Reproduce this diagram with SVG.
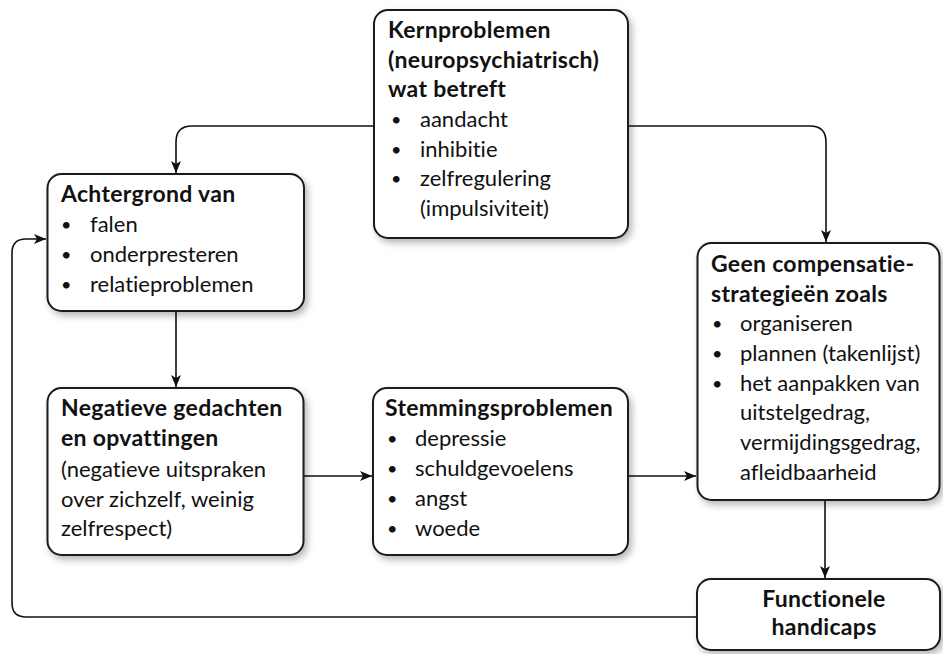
<svg xmlns="http://www.w3.org/2000/svg" width="943" height="654" viewBox="0 0 943 654">
<defs>
<filter id="sh" x="-10%" y="-10%" width="125%" height="125%">
<feDropShadow dx="3" dy="4" stdDeviation="3.5" flood-color="#000" flood-opacity="0.28"/>
</filter>
<marker id="ar" viewBox="0 0 12 10" refX="12" refY="5" markerWidth="12" markerHeight="10" markerUnits="userSpaceOnUse" orient="auto">
<path d="M0,0 L12,5 L0,10 L3,5 Z" fill="#111"/>
</marker>
</defs>
<style>
.box{fill:#fff;stroke:#1a1a1a;stroke-width:2;filter:url(#sh)}
.t{font-family:Lato,"Open Sans","Liberation Sans",sans-serif;font-size:22px;fill:#111;font-variant-ligatures:none}
.b{font-weight:bold;font-size:23px;letter-spacing:0.3px}
.u{font-size:18px}
.c{fill:none;stroke:#111;stroke-width:1.6;marker-end:url(#ar)}
</style>
<g id="connectors">
<path class="c" d="M374,126 H192 Q176,126 176,142 V173"/>
<path class="c" d="M628,126 H810 Q826,126 826,142 V242"/>
<path class="c" d="M176,311 V387"/>
<path class="c" d="M304,476 H372"/>
<path class="c" d="M628,476 H696"/>
<path class="c" d="M825,501 V578"/>
<path class="c" d="M697,617 H26 Q12,617 12,603 V253 Q12,239 26,239 H46"/>
</g>
<g id="kernproblemen">
<rect class="box" x="374" y="10" width="254" height="228" rx="14"/>
<text class="t b" x="388" y="38">Kernproblemen</text>
<text class="t b" x="388" y="67.5">(neuropsychiatrisch)</text>
<text class="t b" x="388" y="97">wat betreft</text>
<text class="t u" x="391" y="126">•</text><text class="t" x="420" y="127">aandacht</text>
<text class="t u" x="391" y="155.5">•</text><text class="t" x="420" y="156.5">inhibitie</text>
<text class="t u" x="391" y="185">•</text><text class="t" x="420" y="186">zelfregulering</text>
<text class="t" x="420" y="216">(impulsiviteit)</text>
</g>
<g id="achtergrond">
<rect class="box" x="47.5" y="174" width="256.5" height="137" rx="14"/>
<text class="t b" x="61" y="202">Achtergrond van</text>
<text class="t u" x="61" y="231">•</text><text class="t" x="90" y="232">falen</text>
<text class="t u" x="61" y="261">•</text><text class="t" x="90" y="262">onderpresteren</text>
<text class="t u" x="61" y="291">•</text><text class="t" x="90" y="292">relatieproblemen</text>
</g>
<g id="negatieve">
<rect class="box" x="47.5" y="388" width="256" height="167" rx="14"/>
<text class="t b" x="61" y="416">Negatieve gedachten</text>
<text class="t b" x="61" y="446">en opvattingen</text>
<text class="t" x="61" y="476.5">(negatieve uitspraken</text>
<text class="t" x="61" y="506.5">over zichzelf, weinig</text>
<text class="t" x="61" y="536">zelfrespect)</text>
</g>
<g id="stemmingsproblemen">
<rect class="box" x="373" y="388" width="255" height="167" rx="14"/>
<text class="t b" x="385" y="415.5">Stemmingsproblemen</text>
<text class="t u" x="387" y="445">•</text><text class="t" x="415" y="446">depressie</text>
<text class="t u" x="387" y="475">•</text><text class="t" x="415" y="476">schuldgevoelens</text>
<text class="t u" x="387" y="505">•</text><text class="t" x="415" y="506">angst</text>
<text class="t u" x="387" y="535">•</text><text class="t" x="415" y="536">woede</text>
</g>
<g id="compensatie">
<rect class="box" x="697.5" y="243" width="242" height="257" rx="14"/>
<text class="t b" x="711" y="272">Geen compensatie-</text>
<text class="t b" x="711" y="301.5">strategieën zoals</text>
<text class="t u" x="712" y="330">•</text><text class="t" x="740" y="331">organiseren</text>
<text class="t u" x="712" y="360">•</text><text class="t" x="740" y="361">plannen (takenlijst)</text>
<text class="t u" x="712" y="389.5">•</text><text class="t" x="740" y="390.5">het aanpakken van</text>
<text class="t" x="740" y="420">uitstelgedrag,</text>
<text class="t" x="740" y="450">vermijdingsgedrag,</text>
<text class="t" x="740" y="479.5">afleidbaarheid</text>
</g>
<g id="functionele">
<rect class="box" x="697" y="579" width="243" height="71" rx="14"/>
<text class="t b" x="824" y="607" text-anchor="middle">Functionele</text>
<text class="t b" x="824" y="635" text-anchor="middle">handicaps</text>
</g>
</svg>
